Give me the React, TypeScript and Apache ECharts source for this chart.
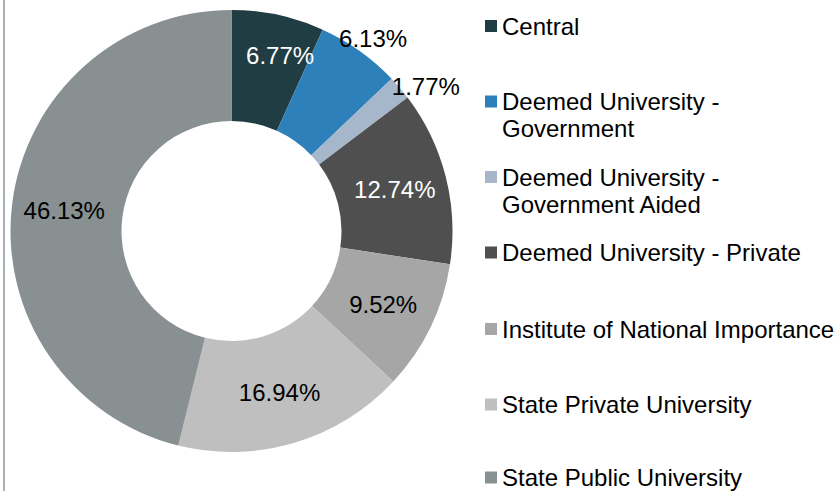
import React, { useEffect, useRef } from "react";
import * as echarts from "echarts";

const categories = [
  "Central",
  "Deemed University - Government",
  "Deemed University - Government Aided",
  "Deemed University - Private",
  "Institute of National Importance",
  "State Private University",
  "State Public University",
];
const legendLines = [
  ["Central"],
  ["Deemed University -", "Government"],
  ["Deemed University -", "Government Aided"],
  ["Deemed University - Private"],
  ["Institute of National Importance"],
  ["State Private University"],
  ["State Public University"],
];
const shares = [6.77, 6.13, 1.77, 12.74, 9.52, 16.94, 46.13];
const colors = ["#213d44", "#2e80ba", "#a7b7cb", "#4f4f4f", "#a6a6a6", "#bfbfbf", "#889091"];
const labelColors = ["#ffffff", "#000000", "#000000", "#ffffff", "#000000", "#000000", "#000000"];
const labelShift: Record<number, [number, number]> = { 0: [13, -11], 1: [44, -55], 2: [66, -35] };

const FONT = "'Liberation Sans', Arial, sans-serif";
const FS = 24;
const LH = 27;
const iconCenters = [26, 101.5, 177, 252.5, 329, 404.5, 477.5];

export default function App() {
  const ref = useRef<HTMLDivElement>(null);
  useEffect(() => {
    if (!ref.current) return;
    const chart = echarts.init(ref.current, undefined, { renderer: "svg" });
    const legends = categories.map((name, i) => {
      const lines = legendLines[i];
      const multi = lines.length > 1;
      const text = multi ? "\n" + lines.join("\n") : lines[0];
      const h = multi ? LH * 3 : LH;
      return {
        data: [name],
        orient: "vertical",
        left: 485,
        top: iconCenters[i] - h / 2,
        padding: 0,
        itemWidth: 12,
        itemHeight: 12,
        icon: "rect",
        selectedMode: false,
        formatter: () => text,
        textStyle: { fontFamily: FONT, fontSize: FS, color: "#000", lineHeight: LH },
      };
    });
    chart.setOption({
      animation: false,
      color: colors,
      legend: legends,
      graphic: [
        {
          type: "line",
          shape: { x1: 4, y1: 0, x2: 4, y2: 491 },
          style: { stroke: "#8c979f", lineWidth: 1.5 },
        },
      ],
      series: [
        {
          type: "pie",
          center: [231.5, 231],
          radius: [110, 221],
          startAngle: 90,
          clockwise: true,
          avoidLabelOverlap: false,
          label: {
            show: true,
            position: "inside",
            fontFamily: FONT,
            fontSize: FS,
            formatter: (p: any) => p.value.toFixed(2) + "%",
          },
          labelLine: { show: false },
          labelLayout: (p: any) => {
            const s = labelShift[p.dataIndex];
            return s ? { dx: s[0], dy: s[1] } : {};
          },
          emphasis: { disabled: true },
          data: categories.map((name, i) => ({
            name,
            value: shares[i],
            label: { color: labelColors[i] },
          })),
        },
      ],
    });
    return () => chart.dispose();
  }, []);
  return (
    <div
      ref={ref}
      style={{ position: "fixed", left: 0, top: 0, width: 837, height: 491, background: "#fff" }}
    />
  );
}
